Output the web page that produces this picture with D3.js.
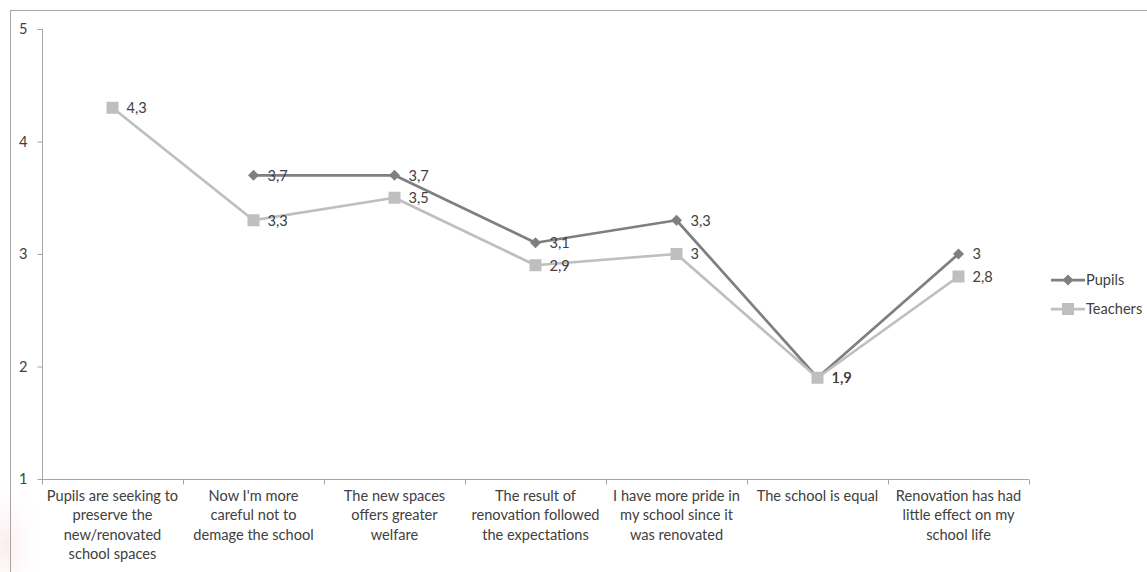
<!DOCTYPE html>
<html>
<head>
<meta charset="utf-8">
<script src="https://cdn.jsdelivr.net/npm/d3@7"></script>
<style>
  html, body { margin: 0; padding: 0; background: #fff; }
  svg { display: block; font-family: Lato, "Liberation Sans", sans-serif; }
</style>
</head>
<body>
<svg id="chart" width="1147" height="572"></svg>
<script>
// Survey statements along the x axis
const categories = [
  ["Pupils are seeking to", "preserve the", "new/renovated", "school spaces"],
  ["Now I'm more", "careful not to", "demage the school"],
  ["The new spaces", "offers greater", "welfare"],
  ["The result of", "renovation followed", "the expectations"],
  ["I have more pride in", "my school since it", "was renovated"],
  ["The school is equal"],
  ["Renovation has had", "little effect on my", "school life"]
];
// Mean scores (null = not asked of that group)
const pupils   = [null, 3.7, 3.7, 3.1, 3.3, 1.9, 3.0];
const teachers = [4.3, 3.3, 3.5, 2.9, 3.0, 1.9, 2.8];
const yTicks = [1, 2, 3, 4, 5];
const seriesNames = ["Pupils", "Teachers"];

(function () {
const svg = d3.select("#chart");
const W = 1147, H = 572;
const plotL = 42, plotR = 1029, plotT = 29, plotB = 479;
const FS = "14.6px";
const FONT = "Lato, 'Liberation Sans', sans-serif";

// faint pink tint in the lower-left corner
const defs = svg.append("defs");
const rg = defs.append("radialGradient").attr("id", "tint");
rg.append("stop").attr("offset", "0%").attr("stop-color", "#f8dde0").attr("stop-opacity", 0.55);
rg.append("stop").attr("offset", "100%").attr("stop-color", "#ffffff").attr("stop-opacity", 0);
svg.append("ellipse").attr("cx", 6).attr("cy", 545).attr("rx", 38).attr("ry", 75).attr("fill", "url(#tint)");

// chart area frame
svg.append("rect").attr("x", 10.5).attr("y", 10.5).attr("width", W).attr("height", H)
  .attr("fill", "none").attr("stroke", "#a6a6a6").attr("stroke-width", 1);

const idx = categories.map((d, i) => i);
const x = d3.scaleBand().domain(idx).range([plotL, plotR]);
const y = d3.scaleLinear().domain([1, 5]).range([plotB, plotT]);
const cx = i => x(i) + x.bandwidth() / 2;

// y axis
const yAxis = svg.append("g").attr("transform", `translate(${plotL + 0.5},0)`)
  .call(d3.axisLeft(y).tickValues(yTicks).tickSize(5).tickPadding(10).tickFormat(d3.format("d")));
yAxis.select(".domain").attr("stroke", "#a6a6a6").attr("d", `M-5,${plotT}.5H0V${plotB}.5`);
yAxis.selectAll(".tick line").attr("stroke", "#a6a6a6");
yAxis.selectAll(".tick text").attr("fill", "#404040").style("font-size", FS).style("font-family", FONT);

// x axis with tick marks on band edges
const xg = svg.append("g").attr("transform", `translate(0,${plotB + 0.5})`);
xg.append("line").attr("x1", plotL).attr("x2", plotR).attr("stroke", "#a6a6a6");
const edges = idx.map(i => x(i)).concat([plotR]);
xg.selectAll("line.tk").data(edges).join("line").attr("class", "tk")
  .attr("x1", d => Math.round(d) + 0.5).attr("x2", d => Math.round(d) + 0.5)
  .attr("y1", 0).attr("y2", 5).attr("stroke", "#a6a6a6");
xg.selectAll("text.cat").data(categories).join("text").attr("class", "cat")
  .attr("x", (d, i) => cx(i)).attr("y", 21)
  .attr("text-anchor", "middle").attr("fill", "#404040").style("font-size", FS)
  .each(function (lines) {
    const xx = this.getAttribute("x");
    d3.select(this).selectAll("tspan").data(lines).join("tspan")
      .attr("x", xx).attr("dy", (d, j) => j === 0 ? 0 : 19.5).text(d => d);
  });

const colors = { Pupils: "#7f7f7f", Teachers: "#bfbfbf" };
const dataBy = { Pupils: pupils, Teachers: teachers };
const line = d3.line().defined(d => d.v != null).x(d => cx(d.i)).y(d => y(d.v));
const fmt = v => String(v).replace(".", ",");

function marker(g, name, px, py) {
  if (name === "Pupils") {
    g.append("path").attr("d", `M${px},${py - 5.5}L${px + 5.5},${py}L${px},${py + 5.5}L${px - 5.5},${py}Z`)
      .attr("fill", colors[name]);
  } else {
    g.append("rect").attr("x", px - 6).attr("y", py - 6).attr("width", 12).attr("height", 12)
      .attr("fill", colors[name]);
  }
}

seriesNames.forEach(name => {
  const pts = dataBy[name].map((v, i) => ({ i, v }));
  const g = svg.append("g");
  g.append("path").datum(pts).attr("d", line).attr("fill", "none")
    .attr("stroke", colors[name]).attr("stroke-width", 2.75).attr("stroke-linejoin", "round");
  pts.filter(d => d.v != null).forEach(d => marker(g, name, cx(d.i), y(d.v)));
});

// data labels to the right of each point
[...seriesNames].reverse().forEach(name => {
  dataBy[name].forEach((v, i) => {
    if (v == null) return;
    svg.append("text").attr("x", cx(i) + 14).attr("y", y(v)).attr("dy", "0.36em")
      .attr("fill", "#404040").style("font-size", FS).text(fmt(v));
  });
});

// legend
const lg = svg.append("g");
seriesNames.forEach((name, k) => {
  const ly = 280 + k * 29;
  lg.append("line").attr("x1", 1051).attr("x2", 1085).attr("y1", ly).attr("y2", ly)
    .attr("stroke", colors[name]).attr("stroke-width", 2.75);
  marker(lg, name, 1068, ly);
  lg.append("text").attr("x", 1086).attr("y", ly).attr("dy", "0.36em")
    .attr("fill", "#404040").style("font-size", FS).text(name);
});
})();
</script>
</body>
</html>
